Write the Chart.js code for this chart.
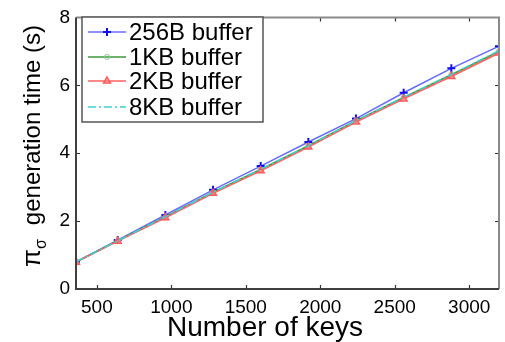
<!DOCTYPE html>
<html>
<head>
<meta charset="utf-8">
<script src="https://cdn.jsdelivr.net/npm/chart.js@4"></script>
<style>
  html, body { margin: 0; padding: 0; background: #fff; }
  #wrap { width: 505px; height: 342px; }
</style>
</head>
<body>
<div id="wrap"><canvas id="chart" width="505" height="342"></canvas></div>
<script>
// values
const numKeys = [360, 640, 960, 1280, 1600, 1920, 2240, 2560, 2880, 3200];
const buf256B = [0.80, 1.44, 2.18, 2.92, 3.62, 4.33, 5.02, 5.78, 6.50, 7.15];
const buf1KB = [0.79, 1.42, 2.12, 2.85, 3.52, 4.22, 4.96, 5.64, 6.31, 7.00];
const buf2KB = [0.79, 1.41, 2.10, 2.82, 3.48, 4.18, 4.92, 5.60, 6.26, 6.95];
const buf8KB = [0.80, 1.42, 2.13, 2.85, 3.53, 4.22, 4.96, 5.65, 6.32, 7.02];
const seriesNames = ["256B buffer", "1KB buffer", "2KB buffer", "8KB buffer"];
const xTickValues = [500, 1000, 1500, 2000, 2500, 3000];
const yTickValues = [0, 2, 4, 6, 8];

const FONT = "'Liberation Sans', Arial, sans-serif";

function toPoints(ys) {
  return numKeys.map((x, i) => ({ x: x, y: ys[i] }));
}

// box, inward ticks, legend and axis titles in matlab style
const matlabFrame = {
  id: "matlabFrame",
  beforeDraw(chart) {
    const ctx = chart.ctx;
    ctx.save();
    ctx.fillStyle = "#fff";
    ctx.fillRect(0, 0, chart.width, chart.height);
    ctx.restore();
  },
  afterDraw(chart) {
    const ctx = chart.ctx;
    const a = chart.chartArea;
    const xs = chart.scales.x;
    const ys = chart.scales.y;
    ctx.save();

    // ticks
    ctx.strokeStyle = "#333";
    ctx.lineWidth = 1.2;
    xTickValues.forEach((v) => {
      const px = Math.round(xs.getPixelForValue(v)) + 0.5;
      ctx.beginPath();
      ctx.moveTo(px, a.bottom); ctx.lineTo(px, a.bottom - 4);
      ctx.moveTo(px, a.top); ctx.lineTo(px, a.top + 4);
      ctx.stroke();
    });
    yTickValues.forEach((v) => {
      const py = Math.round(ys.getPixelForValue(v)) + 0.5;
      ctx.beginPath();
      ctx.moveTo(a.left, py); ctx.lineTo(a.left + 4, py);
      ctx.moveTo(a.right, py); ctx.lineTo(a.right - 4, py);
      ctx.stroke();
    });

    // box
    ctx.lineWidth = 2;
    ctx.strokeStyle = "#8a8a8a";
    ctx.beginPath();
    ctx.moveTo(a.left, a.top); ctx.lineTo(a.right, a.top); ctx.lineTo(a.right, a.bottom);
    ctx.stroke();
    ctx.strokeStyle = "#404040";
    ctx.beginPath();
    ctx.moveTo(a.left, a.top); ctx.lineTo(a.left, a.bottom); ctx.lineTo(a.right, a.bottom);
    ctx.stroke();

    // legend
    const lx = 82, ly = 17, lw = 181, lh = 105;
    ctx.fillStyle = "#fff";
    ctx.fillRect(lx, ly, lw, lh);
    ctx.lineWidth = 1.5;
    ctx.strokeStyle = "#555";
    ctx.strokeRect(lx, ly, lw, lh);
    ctx.font = "24px " + FONT;
    ctx.textBaseline = "middle";
    ctx.textAlign = "left";
    const rows = [32, 57, 81, 107];
    chart.data.datasets.forEach((ds, i) => {
      const y = rows[i];
      ctx.save();
      ctx.strokeStyle = ds.borderColor;
      ctx.lineWidth = ds.borderWidth;
      ctx.setLineDash(ds.borderDash || []);
      ctx.beginPath();
      ctx.moveTo(88, y); ctx.lineTo(126, y);
      ctx.stroke();
      ctx.restore();
      if (ds.pointStyle && ds.pointRadius > 0) {
        ctx.save();
        ctx.strokeStyle = ds.pointBorderColor;
        ctx.fillStyle = ds.pointBackgroundColor;
        ctx.lineWidth = ds.pointBorderWidth;
        Chart.helpers.drawPoint(ctx, {
          pointStyle: ds.pointStyle, radius: ds.pointRadius,
          borderWidth: ds.pointBorderWidth, rotation: 0
        }, 107, y);
        ctx.restore();
      }
      ctx.fillStyle = "#000";
      ctx.fillText(ds.label, 129, y + 1);
    });

    // x title
    ctx.fillStyle = "#000";
    ctx.font = "28px " + FONT;
    ctx.textAlign = "center";
    ctx.textBaseline = "alphabetic";
    ctx.fillText("Number of keys", 265, 336);

    // y title, pi with sigma subscript
    ctx.translate(40, 146);
    ctx.rotate(-Math.PI / 2);
    ctx.font = "26px " + FONT;
    const main = "generation time (s)";
    const wPi = ctx.measureText("\u03c0").width;
    ctx.font = "16px " + FONT;
    const wSig = ctx.measureText("\u03c3").width;
    ctx.font = "24px " + FONT;
    const wMain = ctx.measureText(main).width;
    const gap = 14;
    const total = wPi + wSig + gap + wMain;
    let cx = -total / 2;
    ctx.textAlign = "left";
    ctx.font = "26px " + FONT;
    ctx.fillText("\u03c0", cx, 0);
    cx += wPi;
    ctx.font = "16px " + FONT;
    ctx.fillText("\u03c3", cx, 6);
    cx += wSig + gap;
    ctx.font = "24px " + FONT;
    ctx.fillText(main, cx, 0);

    ctx.restore();
  }
};

const ctx = document.getElementById("chart").getContext("2d");
new Chart(ctx, {
  type: "line",
  data: {
    datasets: [
      {
        label: seriesNames[0],
        data: toPoints(buf256B),
        borderColor: "#6a6aff",
        borderWidth: 1.5,
        pointStyle: "cross",
        pointRadius: 4,
        pointBorderWidth: 2,
        pointBorderColor: "#1010ee",
        pointBackgroundColor: "#1010ee",
        order: 4,
      },
      {
        label: seriesNames[1],
        data: toPoints(buf1KB),
        borderColor: "#3c9a3c",
        borderWidth: 1.5,
        pointStyle: "circle",
        pointRadius: 2.5,
        pointBorderWidth: 1,
        pointBorderColor: "#8cc48c",
        pointBackgroundColor: "rgba(255,255,255,0)",
        order: 3,
      },
      {
        label: seriesNames[2],
        data: toPoints(buf2KB),
        borderColor: "#ff6060",
        borderWidth: 1.5,
        pointStyle: "triangle",
        pointRadius: 4,
        pointBorderWidth: 1.5,
        pointBorderColor: "#ff5a5a",
        pointBackgroundColor: "rgba(255,150,150,0.5)",
        order: 2,
      },
      {
        label: seriesNames[3],
        data: toPoints(buf8KB),
        borderColor: "#3cd0d0",
        borderWidth: 1.5,
        borderDash: [8, 3, 2, 3],
        pointRadius: 0,
        order: 1,
      },
    ],
  },
  options: {
    responsive: false,
    animation: false,
    layout: { padding: { top: 11, right: 2, left: 0, bottom: 0 } },
    plugins: {
      legend: { display: false },
      tooltip: { enabled: false },
    },
    elements: { line: { tension: 0 } },
    scales: {
      x: {
        type: "linear",
        min: numKeys[0],
        max: numKeys[numKeys.length - 1],
        grid: { display: false, drawTicks: false },
        border: { display: false },
        afterBuildTicks: (scale) => { scale.ticks = xTickValues.map((v) => ({ value: v })); },
        afterFit: (scale) => { scale.height = 53; },
        ticks: {
          padding: 7,
          maxRotation: 0,
          color: "#000",
          font: { family: FONT, size: 19 },
          callback: (v) => String(v),
        },
      },
      y: {
        min: 0,
        max: 8,
        grid: { display: false, drawTicks: false },
        border: { display: false },
        afterBuildTicks: (scale) => { scale.ticks = yTickValues.map((v) => ({ value: v })); },
        afterFit: (scale) => { scale.width = 76; },
        ticks: {
          padding: 6,
          color: "#000",
          font: { family: FONT, size: 19 },
          callback: (v) => String(v),
        },
      },
    },
  },
  plugins: [matlabFrame],
});
</script>
</body>
</html>
